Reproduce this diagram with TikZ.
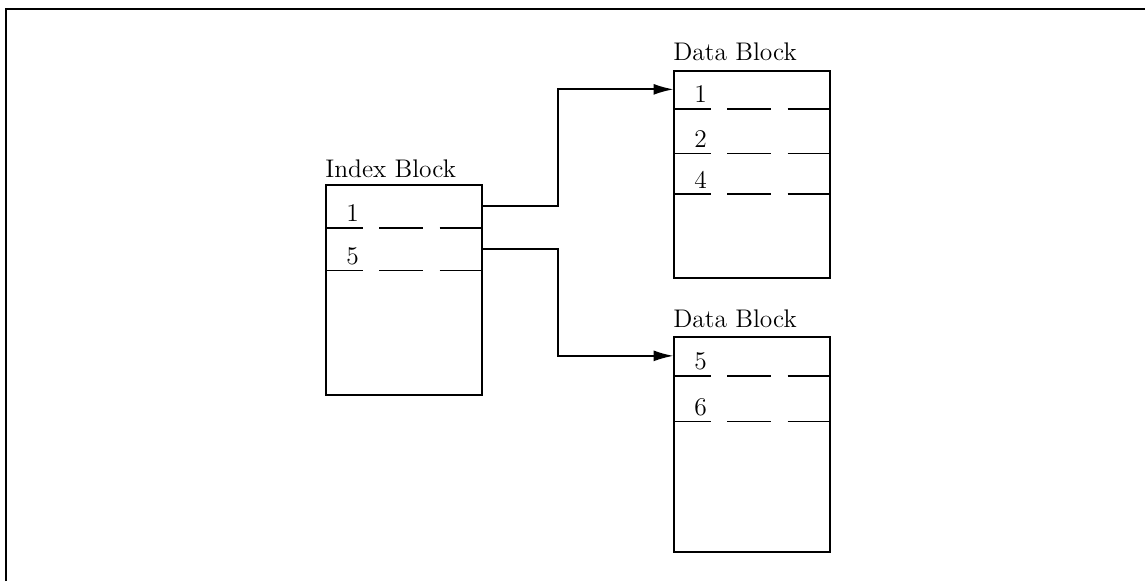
\documentclass[tikz,border=0pt]{standalone}
\usetikzlibrary{arrows.meta, positioning}
\tikzset{
  block/.style={draw, line width=1pt, minimum width=3.12cm, inner sep=0pt, anchor=north west},
  slot/.style={minimum width=3.12cm, inner sep=0pt},
  blocktitle/.style={anchor=base west, inner sep=0pt},
  slotnum/.style={anchor=base, inner sep=0pt},
  sep/.style={line width=1pt, dash pattern=on 21.3pt off 9.4pt on 24.5pt off 9.7pt on 40pt},
  link/.style={line width=1pt, -{Latex[length=4mm, width=2.2mm]}},
}
% one record of a block: name, placement, height (px), key
\newcommand{\slotrow}[4]{%
  \node[slot, #2, minimum height=#3*0.02cm] (#1) {};
  \draw[sep] (#1.south west) -- (#1.south east);
  \node[slotnum] (#1k) at ([xshift=0.54cm, yshift=0.12cm]#1.south west) {#4};}

\begin{document}
\begin{tikzpicture}[x=0.02cm, y=-0.02cm, font=\fontsize{14.5}{16}\selectfont]
  \useasboundingbox (0,0) rectangle (1145,581);
  \draw[line width=1pt] (6,581) -- (6,9) -- (1145,9);

  % index block
  \node[block, minimum height=4.2cm] (ib) at (325,184) {};
  \node[blocktitle] (ibt) at ([yshift=0.13cm]ib.north west) {Index Block};
  \slotrow{i1}{below=0pt of ib.north}{43}{1}
  \slotrow{i2}{below=0pt of i1}{42}{5}

  % first data block
  \node[block, minimum height=4.14cm] (db) at (673,70) {};
  \node[blocktitle] (dbt) at ([yshift=0.19cm]db.north west) {Data Block};
  \slotrow{d1}{below=0pt of db.north}{38}{1}
  \slotrow{d2}{below=0pt of d1}{44}{2}
  \slotrow{d3}{below=0pt of d2}{40}{4}

  % second data block
  \node[block, minimum height=4.3cm] (eb) at (673,336) {};
  \node[blocktitle] (ebt) at ([yshift=0.18cm]eb.north west) {Data Block};
  \slotrow{e1}{below=0pt of eb.north}{39}{5}
  \slotrow{e2}{below=0pt of e1}{45}{6}

  \draw[link] (i1.east) -- ++(76,0) |- (d1.west);
  \draw[link] (i2.east) -- ++(76,0) |- (e1.west);
\end{tikzpicture}
\end{document}
